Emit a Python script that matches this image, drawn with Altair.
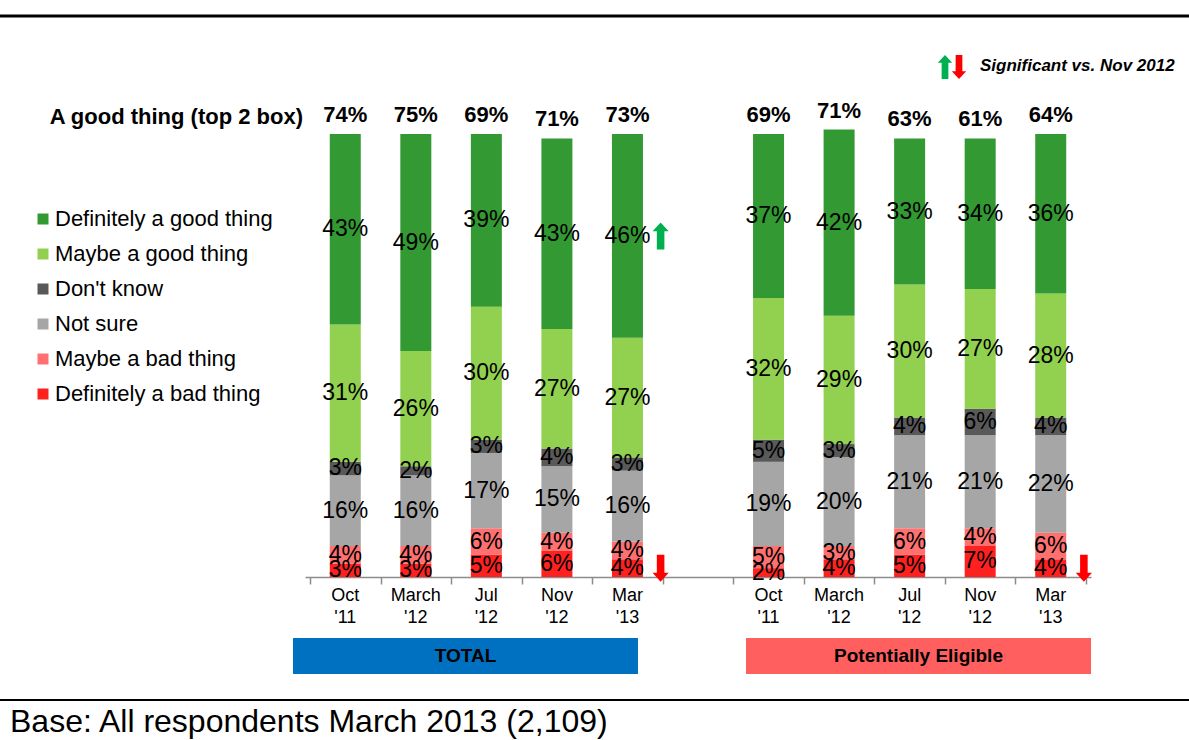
import altair as alt
import pandas as pd

# ---- data -------------------------------------------------------------
periods = ["Oct '11", "March '12", "Jul '12", "Nov '12", "Mar '13"]
groups = ["TOTAL", "Potentially Eligible"]

# stack order, bottom to top
segments = ["Definitely a bad thing", "Maybe a bad thing", "Not sure",
            "Don't know", "Maybe a good thing", "Definitely a good thing"]
segment_colors = ["#FF2020", "#FF7070", "#A6A6A6", "#595959", "#92D050", "#339933"]

total_def_good = [43, 49, 39, 43, 46]
total_maybe_good = [31, 26, 30, 27, 27]
total_dont_know = [3, 2, 3, 4, 3]
total_not_sure = [16, 16, 17, 15, 16]
total_maybe_bad = [4, 4, 6, 4, 4]
total_def_bad = [3, 3, 5, 6, 4]
total_top2 = [74, 75, 69, 71, 73]

pe_def_good = [37, 42, 33, 34, 36]
pe_maybe_good = [32, 29, 30, 27, 28]
pe_dont_know = [5, 3, 4, 6, 4]
pe_not_sure = [19, 20, 21, 21, 22]
pe_maybe_bad = [5, 3, 6, 4, 6]
pe_def_bad = [2, 4, 5, 7, 4]
pe_top2 = [69, 71, 63, 61, 64]

# significant changes vs Nov 2012
sig_changes = [
    ("TOTAL", "Mar '13", "Definitely a good thing", "up"),
    ("TOTAL", "Mar '13", "Definitely a bad thing", "down"),
    ("Potentially Eligible", "Mar '13", "Definitely a bad thing", "down"),
]

series = {
    "TOTAL": [total_def_bad, total_maybe_bad, total_not_sure,
              total_dont_know, total_maybe_good, total_def_good],
    "Potentially Eligible": [pe_def_bad, pe_maybe_bad, pe_not_sure,
                             pe_dont_know, pe_maybe_good, pe_def_good],
}
top2 = {"TOTAL": total_top2, "Potentially Eligible": pe_top2}

# ---- tables -----------------------------------------------------------
GROUP_GAP = 1  # empty slot between the two groups
seg_rows, top_rows, cat_rows = [], [], []
for gi, g in enumerate(groups):
    for pi, p in enumerate(periods):
        slot = gi * (len(periods) + GROUP_GAP) + pi + 0.5
        base = 0
        for si, s in enumerate(segments):
            v = series[g][si][pi]
            seg_rows.append(dict(group=g, period=p, segment=s, slot=slot,
                                 y0=base, y1=base + v, mid=base + v / 2,
                                 label=f"{v}%"))
            base += v
        top_rows.append(dict(slot=slot, top=base, label=f"{top2[g][pi]}%"))
        cat_rows.append(dict(slot=slot, period=p))

seg_df = pd.DataFrame(seg_rows)
top_df = pd.DataFrame(top_rows)
cat_df = pd.DataFrame(cat_rows)

ARROW_SHIFT = 0.47
arrow_rows = []
for g, p, s, d in sig_changes:
    r = seg_df[(seg_df.group == g) & (seg_df.period == p) & (seg_df.segment == s)].iloc[0]
    arrow_rows.append(dict(slot=r.slot + ARROW_SHIFT, mid=r["mid"], dir=d))
arrow_df = pd.DataFrame(arrow_rows)

one = pd.DataFrame({"k": [0]})

# ---- scales / encodings ----------------------------------------------
W, H = 786, 443
n_slots = 2 * len(periods) + GROUP_GAP
xs = alt.Scale(domain=[0, n_slots], nice=False, zero=False)
ys = alt.Scale(domain=[0, 100], nice=False)
x_enc = alt.X("slot:Q", scale=xs,
              axis=alt.Axis(values=list(range(n_slots + 1)), labels=False,
                            title=None, grid=False, domainColor="#8C8C8C",
                            tickColor="#8C8C8C", tickSize=7, domainWidth=1.5,
                            tickWidth=1.5))

FONT = "Liberation Sans"
UP = "M0,-1 L0.6,-0.35 L0.28,-0.35 L0.28,1 L-0.28,1 L-0.28,-0.35 L-0.6,-0.35 Z"
DOWN = "M0,1 L0.6,0.35 L0.28,0.35 L0.28,-1 L-0.28,-1 L-0.28,0.35 L-0.6,0.35 Z"

legend_order = segments[::-1]
legend_colors = segment_colors[::-1]

bars = alt.Chart(seg_df).mark_bar(size=31).encode(
    x=x_enc,
    y=alt.Y("y0:Q", scale=ys, axis=None),
    y2="y1:Q",
    color=alt.Color("segment:N",
                    scale=alt.Scale(domain=legend_order, range=legend_colors),
                    legend=alt.Legend(orient="none", legendX=-273, legendY=74,
                                      title=None, symbolType="square",
                                      symbolSize=121, symbolStrokeWidth=0,
                                      symbolOpacity=1, labelFont=FONT,
                                      labelFontSize=22, labelColor="black",
                                      labelOffset=1, rowPadding=13,
                                      labelLimit=400, padding=0)),
)

values = alt.Chart(seg_df).mark_text(font=FONT, fontSize=23, color="black",
                                     baseline="middle").encode(
    x=x_enc, y=alt.Y("mid:Q", scale=ys, axis=None), text="label:N")

tops = alt.Chart(top_df).mark_text(font=FONT, fontSize=22, fontWeight="bold",
                                   color="black", baseline="middle",
                                   dy=-19).encode(
    x=x_enc, y=alt.Y("top:Q", scale=ys, axis=None), text="label:N")

cats = alt.Chart(cat_df).mark_text(font=FONT, fontSize=18, color="black",
                                   baseline="top", lineBreak=" ",
                                   lineHeight=22).encode(
    x=x_enc, y=alt.value(H + 10), text="period:N")

up_arrows = alt.Chart(arrow_df).transform_filter("datum.dir == 'up'").mark_point(
    shape=UP, filled=True, size=729, opacity=1, color="#00B050").encode(
    x=x_enc, y=alt.Y("mid:Q", scale=ys, axis=None))
down_arrows = alt.Chart(arrow_df).transform_filter("datum.dir == 'down'").mark_point(
    shape=DOWN, filled=True, size=729, opacity=1, color="#FF0000").encode(
    x=x_enc, y=alt.Y("mid:Q", scale=ys, axis=None))

# header / footer decorations
header = alt.Chart(one).mark_text(font=FONT, fontSize=22, fontWeight="bold",
                                  color="black", align="right",
                                  baseline="middle").encode(
    x=alt.value(-2), y=alt.value(-17), text=alt.value("A good thing (top 2 box)"))

sig_text = alt.Chart(one).mark_text(font=FONT, fontSize=17, fontWeight="bold",
                                    fontStyle="italic", color="black",
                                    align="left", baseline="middle").encode(
    x=alt.value(675), y=alt.value(-68), text=alt.value("Significant vs. Nov 2012"))
sig_up = alt.Chart(one).mark_point(shape=UP, filled=True, size=576, opacity=1,
                                   color="#00B050").encode(
    x=alt.value(640), y=alt.value(-67))
sig_down = alt.Chart(one).mark_point(shape=DOWN, filled=True, size=576, opacity=1,
                                     color="#FF0000").encode(
    x=alt.value(654), y=alt.value(-67))

top_line = alt.Chart(one).mark_rule(color="black", strokeWidth=3).encode(
    x=alt.value(-305), x2=alt.value(884), y=alt.value(-118))
bottom_line = alt.Chart(one).mark_rule(color="black", strokeWidth=2).encode(
    x=alt.value(-305), x2=alt.value(884), y=alt.value(566))

box_total = alt.Chart(one).mark_rect(color="#0070C0").encode(
    x=alt.value(-12), x2=alt.value(333), y=alt.value(504), y2=alt.value(540))
box_pe = alt.Chart(one).mark_rect(color="#FF5F5F").encode(
    x=alt.value(441), x2=alt.value(786), y=alt.value(504), y2=alt.value(540))
box_total_text = alt.Chart(one).mark_text(font=FONT, fontSize=19, fontWeight="bold",
                                          color="black", baseline="middle").encode(
    x=alt.value(160.5), y=alt.value(522), text=alt.value("TOTAL"))
box_pe_text = alt.Chart(one).mark_text(font=FONT, fontSize=19, fontWeight="bold",
                                       color="black", baseline="middle").encode(
    x=alt.value(613.5), y=alt.value(522), text=alt.value("Potentially Eligible"))

base_text = alt.Chart(one).mark_text(font=FONT, fontSize=32, color="black",
                                     align="left", baseline="middle").encode(
    x=alt.value(-295), y=alt.value(588),
    text=alt.value("Base: All respondents March 2013 (2,109)"))

chart = alt.layer(
    bars, values, tops, cats, up_arrows, down_arrows,
    header, sig_up, sig_down, sig_text, top_line, bottom_line,
    box_total, box_pe, box_total_text, box_pe_text, base_text,
).properties(
    width=W, height=H,
    autosize=alt.AutoSizeParams(type="none"),
    padding={"left": 305, "top": 134, "right": 98, "bottom": 163},
    background="white",
).configure_view(stroke=None)

chart.save("out.html", embed_options={"renderer": "svg", "actions": False})
